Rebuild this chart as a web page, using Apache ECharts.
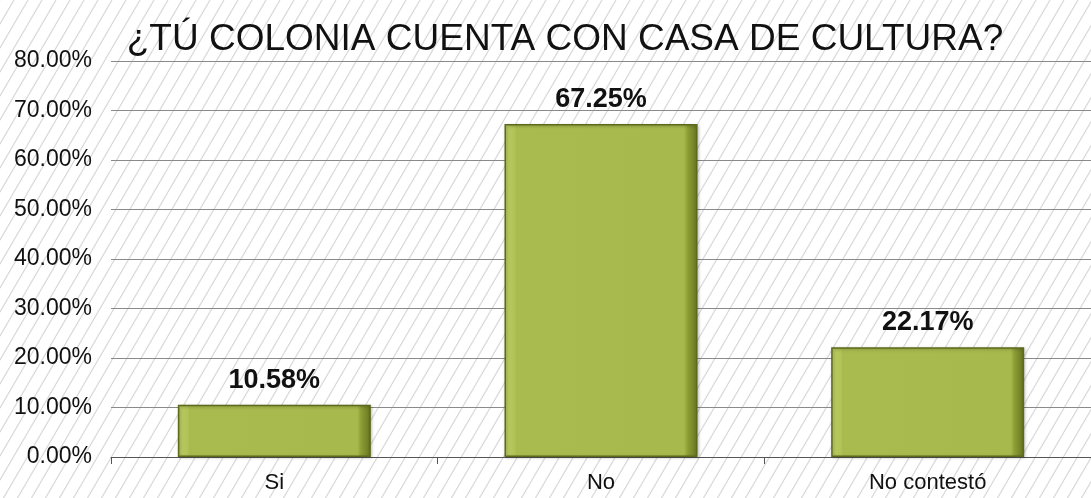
<!DOCTYPE html>
<html>
<head>
<meta charset="utf-8">
<script src="https://cdn.jsdelivr.net/npm/echarts@6/dist/echarts.min.js"></script>
<style>
  html, body { margin: 0; padding: 0; width: 100%; height: 100%; background: #fff; }
  #chart { width: 1091px; height: 498px; }
</style>
</head>
<body>
<div id="chart"></div>
<script>
  const categories = ['Si', 'No', 'No contestó']
  const values = [10.58, 67.25, 22.17]
  const yTicks = [0, 10, 20, 30, 40, 50, 60, 70, 80]

  // patrón de líneas diagonales para el fondo
  const makeHatch = () => {
    const c = document.createElement('canvas')
    c.width = 14
    c.height = 24
    const ctx = c.getContext('2d')
    ctx.fillStyle = '#ffffff'
    ctx.fillRect(0, 0, 14, 24)
    ctx.strokeStyle = '#d9d9d9'
    ctx.lineWidth = 1.2
    ctx.beginPath()
    ctx.moveTo(-14, 48); ctx.lineTo(14, 0)
    ctx.moveTo(0, 48); ctx.lineTo(28, 0)
    ctx.moveTo(-28, 48); ctx.lineTo(0, 0)
    ctx.stroke()
    return c
  }

  const chart = echarts.init(document.getElementById('chart'))
  const option = {
    backgroundColor: { image: makeHatch(), repeat: 'repeat' },
    animation: false,
    textStyle: { fontFamily: 'Liberation Sans, Arial, sans-serif' },
    title: {
      text: '¿TÚ COLONIA CUENTA CON CASA DE CULTURA?',
      left: 560,
      textAlign: 'center',
      top: 16,
      textStyle: { fontSize: 37, fontWeight: 'normal', color: '#111' }
    },
    grid: {
      top: 61,
      bottom: 41,
      left: 111,
      right: -4,
      containLabel: false
    },
    xAxis: {
      type: 'category',
      data: categories,
      axisLine: { show: true, lineStyle: { color: '#555', width: 1 } },
      axisTick: { show: true, length: 7, lineStyle: { color: '#555' } },
      axisLabel: { color: '#111', fontSize: 22, margin: 15 }
    },
    yAxis: {
      type: 'value',
      min: yTicks[0],
      max: yTicks[yTicks.length - 1],
      interval: 10,
      axisLine: { show: false },
      axisTick: { show: false },
      axisLabel: {
        color: '#111',
        fontSize: 23,
        margin: 19,
        formatter: v => v.toFixed(2) + '%'
      },
      splitLine: { lineStyle: { color: '#8a8a8a', width: 1 } }
    },
    series: [{
      type: 'bar',
      data: values,
      barWidth: 193,
      itemStyle: {
        color: new echarts.graphic.LinearGradient(0, 0, 1, 0, [
          { offset: 0, color: '#b9cb62' },
          { offset: 0.05, color: '#b2c458' },
          { offset: 0.06, color: '#a9bb4f' },
          { offset: 0.93, color: '#a7b94d' },
          { offset: 0.95, color: '#8c9d35' },
          { offset: 1, color: '#66751f' }
        ]),
        borderColor: '#5c6a1a',
        borderWidth: 1.5,
        shadowColor: 'rgba(0,0,0,0.25)',
        shadowBlur: 3,
        shadowOffsetX: 1,
        shadowOffsetY: 1
      },
      label: {
        show: true,
        position: 'top',
        distance: 11,
        color: '#111',
        fontSize: 27,
        fontWeight: 'bold',
        formatter: p => p.value.toFixed(2) + '%'
      }
    }]
  }
  chart.setOption(option)
</script>
</body>
</html>
